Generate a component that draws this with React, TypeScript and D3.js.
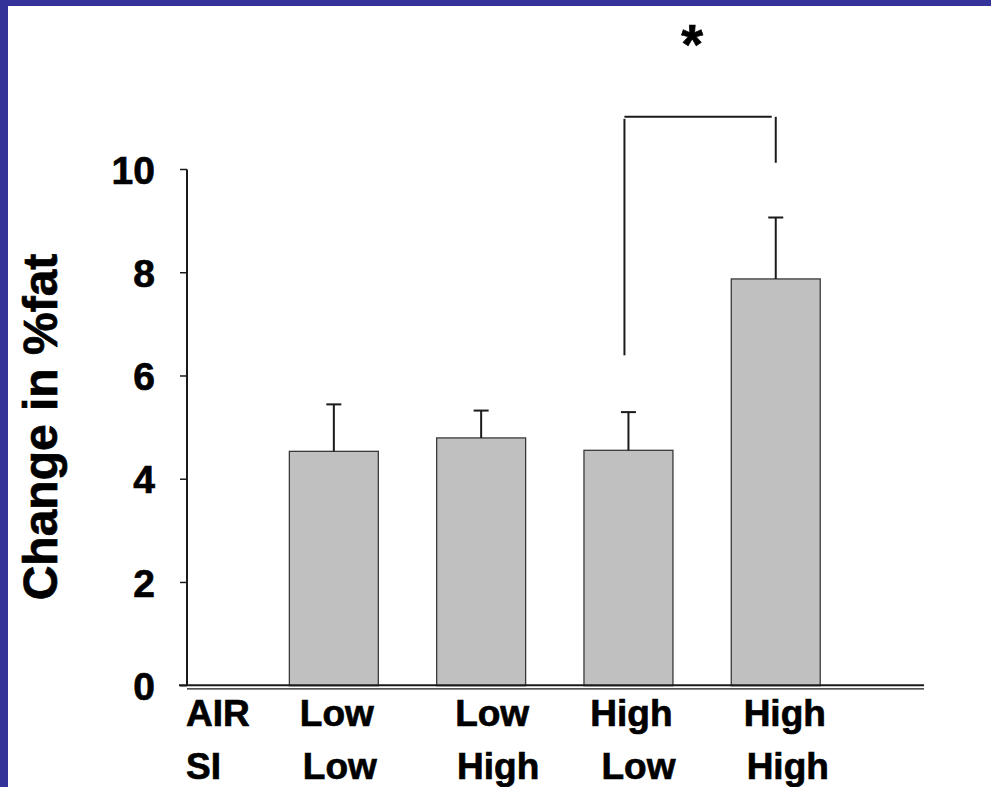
import React from "react";
import * as d3 from "d3";

const categories = ["Low/Low", "Low/High", "High/Low", "High/High"];
const airLabels = ["Low", "Low", "High", "High"];
const siLabels = ["Low", "High", "Low", "High"];
const meanValues = [4.54, 4.8, 4.56, 7.88];
const errorValues = [0.91, 0.53, 0.74, 1.19];
const yTicks = [0, 2, 4, 6, 8, 10];
const bracketLevel = 11.02;
const bracketLeftBottom = 6.4;
const bracketRightBottom = 10.13;

const W = 991;
const H = 787;
const FONT = "'Liberation Sans', Arial, Helvetica, sans-serif";
const row1Shift = [3, 11, 3, 9];
const row2Shift = [6, 17, 10, 12];

export default function App() {
  const axisX = 187;
  const y = d3.scaleLinear().domain([0, 10]).range([685.7, 169.5]);
  const x = d3
    .scaleBand<string>()
    .domain(categories)
    .range([260.2, 849.4])
    .paddingInner(0.396)
    .paddingOuter(0.198);
  const bw = x.bandwidth();
  const cx = (c: string) => (x(c) as number) + bw / 2;
  const ink = "#1a1a1a";
  const heavy = { stroke: "#000", strokeWidth: 0.7, fill: "#000" };

  const c3 = cx(categories[2]) - 4;
  const c4 = cx(categories[3]);

  return (
    <div style={{ position: "absolute", left: 0, top: 0 }}>
      <svg width={W} height={H} style={{ display: "block" }} fontFamily={FONT}>
        <rect x={0} y={0} width={W} height={H} fill="#ffffff" />
        <rect x={0} y={0} width={W} height={6} fill="#333399" />
        <rect x={0} y={0} width={8} height={H} fill="#333399" />

        {/* y axis title */}
        <text
          transform={`translate(57,427) rotate(-90)`}
          textAnchor="middle"
          fontSize={48}
          fontWeight="bold"
          {...heavy}
        >
          Change in %fat
        </text>

        {/* bars */}
        {categories.map((c, i) => (
          <rect
            key={c}
            x={x(c)}
            y={y(meanValues[i])}
            width={bw}
            height={y(0) - y(meanValues[i])}
            fill="#c0c0c0"
            stroke="#3a3a3a"
            strokeWidth={1.3}
          />
        ))}

        {/* error bars */}
        {categories.map((c, i) => {
          const top = y(meanValues[i] + errorValues[i]);
          return (
            <g key={"e" + c} stroke={ink} strokeWidth={2}>
              <line x1={cx(c)} x2={cx(c)} y1={y(meanValues[i])} y2={top} />
              <line x1={cx(c) - 7.5} x2={cx(c) + 7.5} y1={top} y2={top} />
            </g>
          );
        })}

        {/* y axis */}
        <line x1={axisX} x2={axisX} y1={y(10)} y2={y(0)} stroke={ink} strokeWidth={2} />
        {yTicks.map((t) => (
          <g key={t}>
            <line x1={180} x2={axisX} y1={y(t)} y2={y(t)} stroke={ink} strokeWidth={1.5} />
            <text
              x={155}
              y={y(t)}
              dy="0.36em"
              textAnchor="end"
              fontSize={39}
              fontWeight="bold"
              {...heavy}
            >
              {t}
            </text>
          </g>
        ))}

        {/* baseline double line */}
        <line x1={179} x2={924} y1={y(0) - 0.5} y2={y(0) - 0.5} stroke={ink} strokeWidth={2} />
        <line x1={axisX} x2={924} y1={y(0) + 3.2} y2={y(0) + 3.2} stroke={ink} strokeWidth={1.4} />

        {/* x labels */}
        <text x={186} y={726} fontSize={37} fontWeight="bold" {...heavy}>
          AIR
        </text>
        <text x={186} y={779} fontSize={37} fontWeight="bold" {...heavy}>
          SI
        </text>
        {categories.map((c, i) => (
          <g key={"l" + c}>
            <text
              x={cx(c) + row1Shift[i]}
              y={726}
              textAnchor="middle"
              fontSize={37}
              fontWeight="bold"
              {...heavy}
            >
              {airLabels[i]}
            </text>
            <text
              x={cx(c) + row2Shift[i]}
              y={779}
              textAnchor="middle"
              fontSize={37}
              fontWeight="bold"
              {...heavy}
            >
              {siLabels[i]}
            </text>
          </g>
        ))}

        {/* significance bracket */}
        <g stroke={ink} strokeWidth={2}>
          <line x1={c3} x2={c4 - 4} y1={y(bracketLevel)} y2={y(bracketLevel)} />
          <line x1={c3} x2={c3} y1={y(bracketLevel) + 2} y2={y(bracketLeftBottom)} />
          <line x1={c4} x2={c4} y1={y(bracketLevel)} y2={y(bracketRightBottom)} />
        </g>
        <text
          x={(c3 + c4) / 2 - 8}
          y={63}
          textAnchor="middle"
          fontSize={56}
          fontWeight="bold"
          {...heavy}
        >
          *
        </text>
      </svg>
    </div>
  );
}
